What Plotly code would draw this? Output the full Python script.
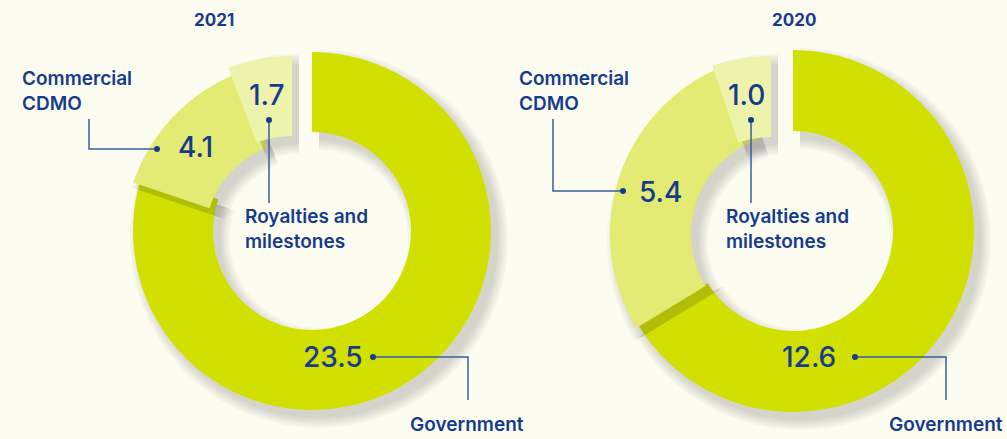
import plotly.graph_objects as go

W, H = 1007, 439

# ---- data -------------------------------------------------------------
years = ["2021", "2020"]
segments = ["Government", "Commercial CDMO", "Royalties and milestones"]
values_2021 = [23.5, 4.1, 1.7]
values_2020 = [12.6, 5.4, 1.0]
series = {"2021": values_2021, "2020": values_2020}

# ---- style ------------------------------------------------------------
BG = "#FCFCF1"
SEG_COLORS = ["#D2E000", "#E4EB74", "#EEF3AB"]
NAVY = "#163B8C"
LEADER = "#3A5C9E"
FONT = "Inter"

# ring geometry in pixels; each segment is drawn as its own ring, nudged
# by a small offset so the smaller pieces sit slightly apart
DONUTS = {
    "2021": dict(cx=312, cy=231, R=179, r=99, shifts=[(0, 0), (-9, 9), (-20, 4)]),
    "2020": dict(cx=793, cy=231, R=181, r=100, shifts=[(0, 0), (-2, 3), (-22, 6)]),
}
SHADOW_OFFSET = (7, 8)
SHADOW_SPREAD = [0, 2, 4, 6, 8, 10]
SHADOW_RGBA = "rgba(60,60,50,0.035)"

# label placement (pixels)
LABELS = {
    "2021": dict(title=214, cdmo=(20, 91), cdmo_val=(176, 147), roy_val=(247, 95),
                 roy=(243, 229), gov_val=(301, 357), gov=(408, 424),
                 cdmo_line=[(89, 119), (89, 149), (157, 149)],
                 roy_line=[(269, 120), (269, 203)],
                 gov_line=[(373, 357), (468, 357), (468, 400)]),
    "2020": dict(title=794, cdmo=(517, 91), cdmo_val=(637, 192), roy_val=(726, 95),
                 roy=(724, 229), gov_val=(780, 357), gov=(887, 424),
                 cdmo_line=[(553, 119), (553, 191), (623, 191)],
                 roy_line=[(751, 120), (751, 203)],
                 gov_line=[(855, 357), (946, 357), (946, 400)]),
}


def px(x):
    return x / W


def py(y):
    return 1 - y / H


def domain(cx, cy, R):
    return dict(x=[px(cx - R), px(cx + R)], y=[py(cy + R), py(cy - R)])


def ring(vals, idx, color, cx, cy, R, r):
    colors = ["rgba(0,0,0,0)"] * len(vals)
    colors[idx] = color
    return go.Pie(
        values=vals, labels=segments, sort=False, direction="clockwise",
        rotation=0, hole=r / R, domain=domain(cx, cy, R),
        marker=dict(colors=colors, line=dict(width=0)),
        textinfo="none", hoverinfo="skip", showlegend=False,
    )


fig = go.Figure()
for year in years:
    vals = series[year]
    g = DONUTS[year]
    for i, seg in enumerate(segments):
        dx, dy = g["shifts"][i]
        cx, cy = g["cx"] + dx, g["cy"] + dy
        # soft drop shadow
        for k in SHADOW_SPREAD:
            fig.add_trace(ring(vals, i, SHADOW_RGBA,
                               cx + SHADOW_OFFSET[0], cy + SHADOW_OFFSET[1],
                               g["R"] + k, g["r"] - k))
        fig.add_trace(ring(vals, i, SEG_COLORS[i], cx, cy, g["R"], g["r"]))

annotations = []
shapes = []


def text(x, y, s, size, weight, anchor="left"):
    annotations.append(dict(
        x=px(x), y=py(y), xref="paper", yref="paper", text=s, showarrow=False,
        xanchor=anchor, yanchor="middle", align="left",
        font=dict(family=FONT, size=size, color=NAVY, weight=weight),
    ))


def leader(points, dot):
    path = "M " + " L ".join(f"{px(x)},{py(y)}" for x, y in points)
    shapes.append(dict(type="path", path=path, xref="paper", yref="paper",
                       line=dict(color=LEADER, width=1.5)))
    x, y = dot
    shapes.append(dict(type="circle", xref="paper", yref="paper",
                       x0=px(x - 3), x1=px(x + 3), y0=py(y + 3), y1=py(y - 3),
                       fillcolor=NAVY, line=dict(width=0)))


for year in years:
    vals = series[year]
    L = LABELS[year]
    gov, cdmo, roy = vals
    text(L["title"], 20, year, 17, 700, anchor="center")
    text(*L["cdmo"], "Commercial<br>CDMO", 19, 600)
    text(*L["cdmo_val"], f"{cdmo:.1f}", 28, 500)
    text(*L["roy_val"], f"{roy:.1f}", 28, 500)
    text(*L["roy"], "Royalties and<br>milestones", 19, 600)
    text(*L["gov_val"], f"{gov:.1f}", 28, 500)
    text(*L["gov"], "Government", 19, 600)
    leader(L["cdmo_line"], L["cdmo_line"][-1])
    leader(L["roy_line"], L["roy_line"][0])
    leader(L["gov_line"], L["gov_line"][0])

fig.update_layout(
    width=W, height=H, margin=dict(l=0, r=0, t=0, b=0),
    paper_bgcolor=BG, plot_bgcolor=BG,
    annotations=annotations, shapes=shapes, showlegend=False,
)

fig.write_html("out.html")
